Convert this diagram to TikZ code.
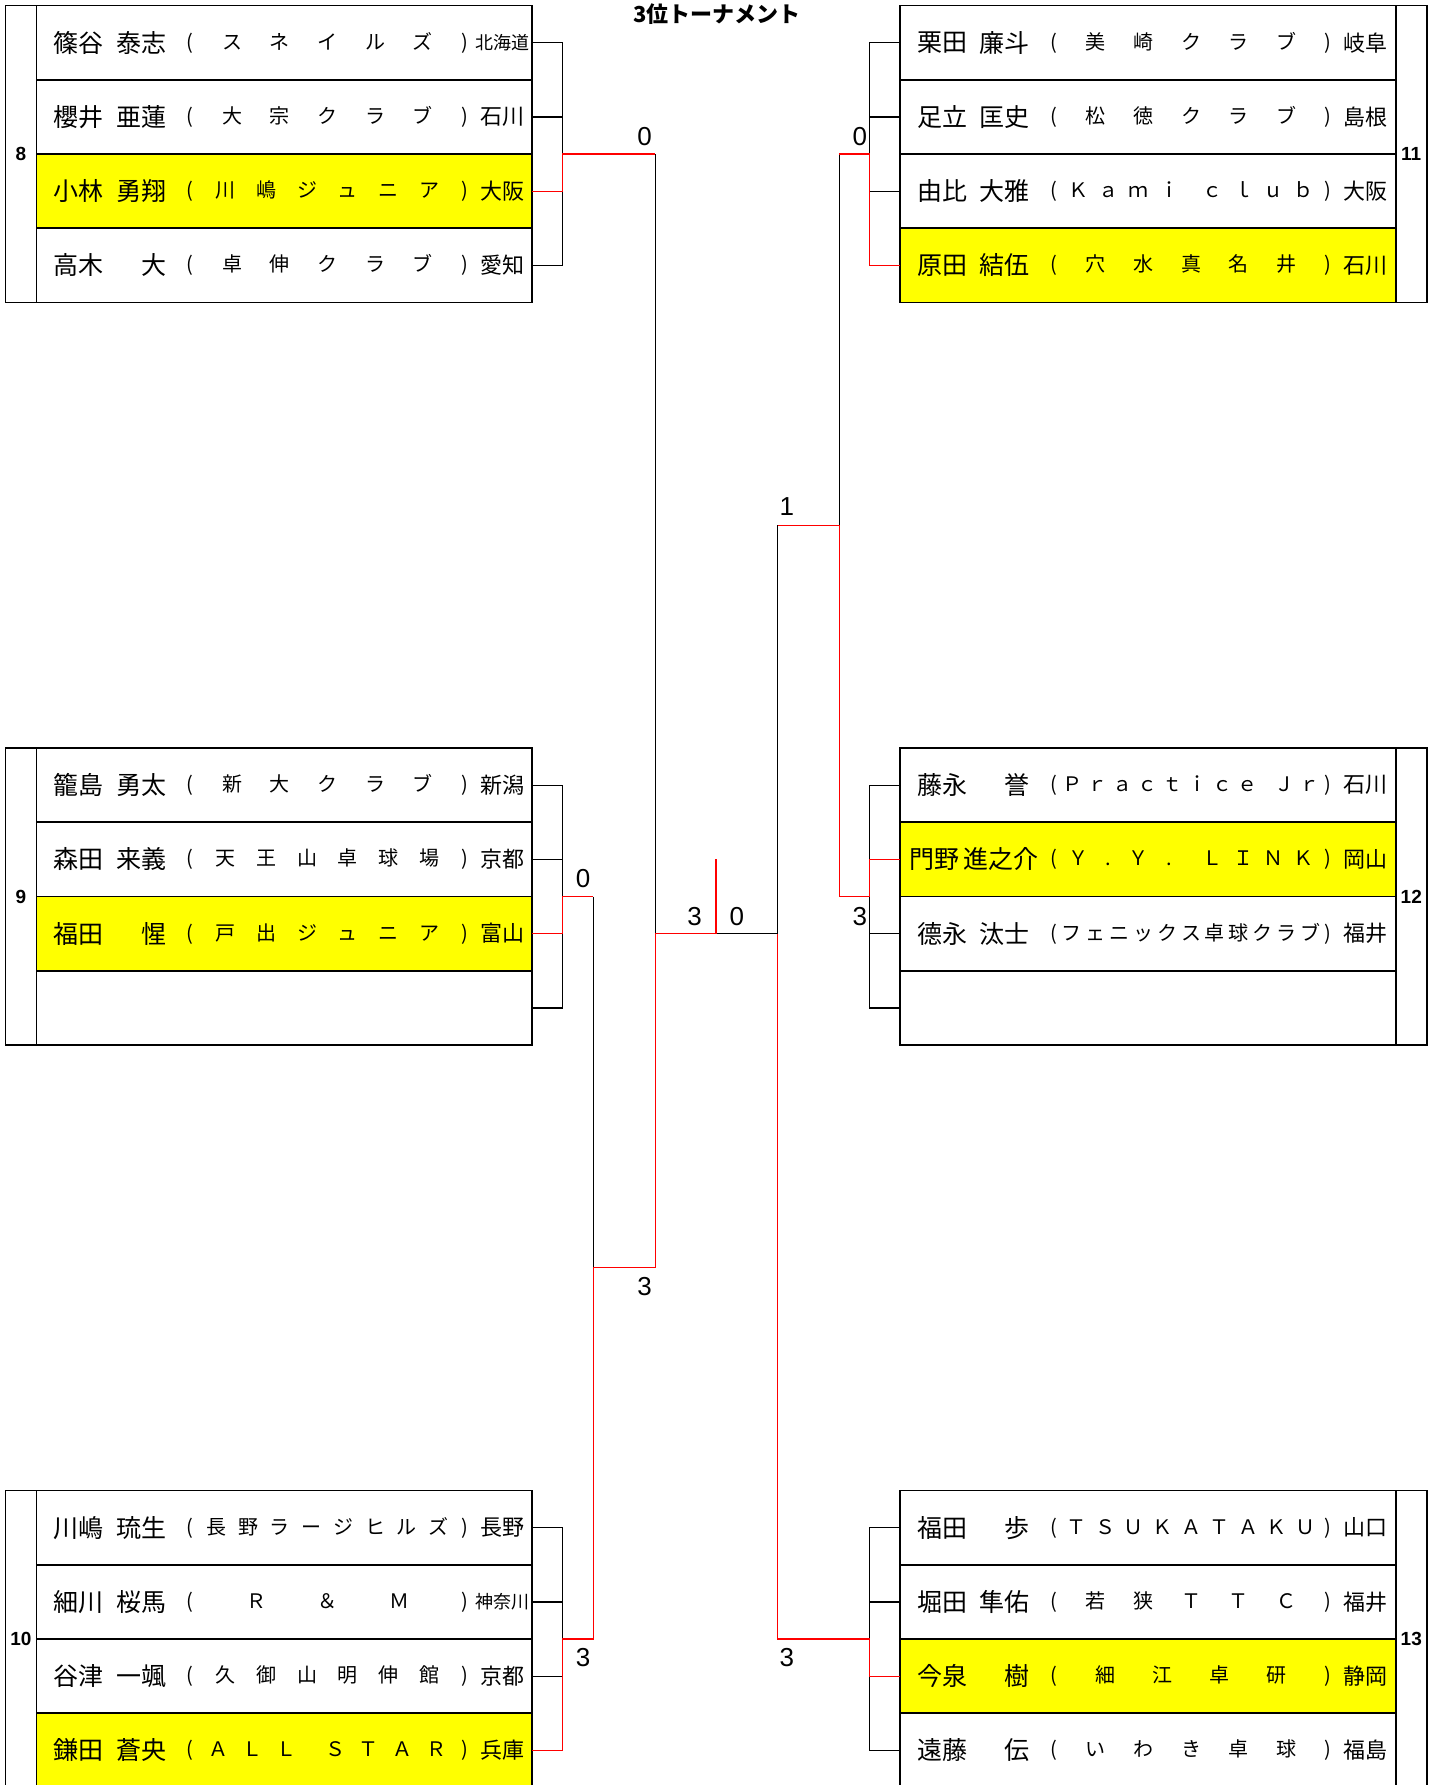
\documentclass[tikz,border=0pt]{standalone}
\usepackage{fontspec}
\setmainfont{Liberation Sans}
\newfontfamily\jp{Noto Sans CJK JP}
\definecolor{hl}{RGB}{255,255,0}
\definecolor{winred}{RGB}{255,0,0}

% club name spread between the brackets, * = a wider gap
\newcommand\club[4]{%
  \gdef\clubsum{1}%
  \foreach \t in {#4}{%
    \if*\t\pgfmathsetmacro\clubtmp{\clubsum+0.45}\else\pgfmathsetmacro\clubtmp{\clubsum+1}\fi
    \global\let\clubsum\clubtmp}%
  \pgfmathsetmacro\clubstep{286/\clubsum}%
  \gdef\clubpos{0}%
  \node[club] (#1-lp) at (#2+153.7,#3) {(};
  \node[club] (#1-rp) at (#2+428.2,#3) {)};
  \foreach \t [count=\i] in {#4}{%
    \if*\t
      \pgfmathsetmacro\clubtmp{\clubpos+0.45}\global\let\clubpos\clubtmp
    \else
      \pgfmathsetmacro\clubtmp{\clubpos+1}\global\let\clubpos\clubtmp
      \node[club] (#1-c\i) at ({#2+148+\clubpos*\clubstep},#3) {\t};
    \fi}%
}
% one player row
\newcommand\plrow[8]{%
  \node[rowbox,fill=#4] (#1) at (#2+247.75,#3) {};
  \node[pname,anchor=west] (#1-sn) at (#2+17,#3) {#5};
  \node[pname,anchor=east] (#1-gn) at (#2+130,#3) {#6};
  \club{#1}{#2}{#3}{#7}%
  \node[pref,anchor=east] (#1-pf) at (#2+488,#3) {#8};
}
\newcommand\smpref[1]{{\fontsize{9}{9}\selectfont#1\kern-2.5pt}}

\begin{document}
\begin{tikzpicture}
[x=0.5pt,y=-0.5pt,%
  rowbox/.style={draw,line width=0.75pt,minimum width=247.75pt,minimum height=37.125pt,inner sep=0pt,outer sep=0pt},
  numbox/.style={draw,line width=0.75pt,minimum width=15.5pt,minimum height=148.5pt,inner sep=0pt,outer sep=0pt,font=\bfseries\fontsize{9.5}{10}\selectfont},
  pname/.style={inner sep=0pt,font=\jp\fontsize{12.5}{13}\selectfont},
  club/.style={inner sep=0pt,text height=8pt,text depth=1.5pt,font=\jp\fontsize{10}{10}\selectfont},
  pref/.style={inner sep=0pt,font=\jp\fontsize{11}{11}\selectfont},
  score/.style={inner sep=0pt,font=\fontsize{13}{13}\selectfont},
  wire/.style={line width=0.6pt},
  win/.style={wire,draw=winred}]
\useasboundingbox (0,0) rectangle (1436,1785);

\node[inner sep=0pt,font=\jp\bfseries\fontsize{11}{12}\selectfont] (title) at (717,14) {3位トーナメント};

% left blocks
\node[numbox] (g8n) at (21,154) {8};
\plrow{g8r1}{36.5}{42.6}{white}{篠谷}{泰志}{ス,ネ,イ,ル,ズ}{\smpref{北海道}}
\plrow{g8r2}{36.5}{116.9}{white}{櫻井}{亜蓮}{大,宗,ク,ラ,ブ}{石川}
\plrow{g8r3}{36.5}{191.1}{hl}{小林}{勇翔}{川,嶋,ジ,ュ,ニ,ア}{大阪}
\plrow{g8r4}{36.5}{265.4}{white}{高木}{大}{卓,伸,ク,ラ,ブ}{愛知}

\node[numbox] (g9n) at (21,896.5) {9};
\plrow{g9r1}{36.5}{785.1}{white}{籠島}{勇太}{新,大,ク,ラ,ブ}{新潟}
\plrow{g9r2}{36.5}{859.4}{white}{森田}{来義}{天,王,山,卓,球,場}{京都}
\plrow{g9r3}{36.5}{933.6}{hl}{福田}{惺}{戸,出,ジ,ュ,ニ,ア}{富山}
\node[rowbox,fill=white] (g9r4) at (284.25,1007.9) {};

\node[numbox] (g10n) at (21,1639) {10};
\plrow{g10r1}{36.5}{1527.6}{white}{川嶋}{琉生}{長,野,ラ,ー,ジ,ヒ,ル,ズ}{長野}
\plrow{g10r2}{36.5}{1601.9}{white}{細川}{桜馬}{Ｒ,＆,Ｍ}{\smpref{神奈川}}
\plrow{g10r3}{36.5}{1676.1}{white}{谷津}{一颯}{久,御,山,明,伸,館}{京都}
\plrow{g10r4}{36.5}{1750.4}{hl}{鎌田}{蒼央}{Ａ,Ｌ,Ｌ,*,Ｓ,Ｔ,Ａ,Ｒ}{兵庫}

% right blocks
\node[numbox] (g11n) at (1411.25,154) {11};
\plrow{g11r1}{900}{42.6}{white}{栗田}{廉斗}{美,崎,ク,ラ,ブ}{岐阜}
\plrow{g11r2}{900}{116.9}{white}{足立}{匡史}{松,徳,ク,ラ,ブ}{島根}
\plrow{g11r3}{900}{191.1}{white}{由比}{大雅}{Ｋ,ａ,ｍ,ｉ,*,ｃ,ｌ,ｕ,ｂ}{大阪}
\plrow{g11r4}{900}{265.4}{hl}{原田}{結伍}{穴,水,真,名,井}{石川}

\node[numbox] (g12n) at (1411.25,896.5) {12};
\plrow{g12r1}{900}{785.1}{white}{藤永}{誉}{Ｐ,ｒ,ａ,ｃ,ｔ,ｉ,ｃ,ｅ,*,Ｊ,ｒ}{石川}
\plrow{g12r2}{900}{859.4}{hl}{\kern-4pt 門野}{進之介\kern-4.5pt}{Ｙ,.,Ｙ,.,*,Ｌ,Ｉ,Ｎ,Ｋ}{岡山}
\plrow{g12r3}{900}{933.6}{white}{德永}{汰士}{フ,ェ,ニ,ッ,ク,ス,卓,球,ク,ラ,ブ}{福井}
\node[rowbox,fill=white] (g12r4) at (1147.75,1007.9) {};

\node[numbox] (g13n) at (1411.25,1639) {13};
\plrow{g13r1}{900}{1527.6}{white}{福田}{歩}{Ｔ,Ｓ,Ｕ,Ｋ,Ａ,Ｔ,Ａ,Ｋ,Ｕ}{山口}
\plrow{g13r2}{900}{1601.9}{white}{堀田}{隼佑}{若,狭,Ｔ,Ｔ,Ｃ}{福井}
\plrow{g13r3}{900}{1676.1}{hl}{今泉}{樹}{細,江,卓,研}{静岡}
\plrow{g13r4}{900}{1750.4}{white}{遠藤}{伝}{い,わ,き,卓,球}{福島}

% bracket corners
\coordinate (j8) at (562.5,154);     \coordinate (s8) at (655.3,154);
\coordinate (j9) at (562.5,896.5);   \coordinate (s9) at (593.3,896.5);
\coordinate (j10) at (562.5,1639);   \coordinate (s10) at (593.3,1639);
\coordinate (sf1) at (593.3,1267.75); \coordinate (sf1c) at (655.3,1267.75);
\coordinate (cl) at (655.3,933.6);   \coordinate (cm) at (716,933.6);
\coordinate (cr) at (777.8,933.6);   \coordinate (ct) at (716,859.4);
\coordinate (j11) at (869.6,154);    \coordinate (s11) at (839.3,154);
\coordinate (j12) at (869.6,896.5);  \coordinate (s12) at (839.3,896.5);
\coordinate (j13) at (869.6,1639);   \coordinate (s13) at (777.8,1639);
\coordinate (sf2) at (839.3,525.25); \coordinate (sf2c) at (777.8,525.25);

% losers
\draw[wire] (g8r1.east) -| (j8) (g8r2.east) -| (j8) (g8r4.east) -| (j8);
\draw[wire] (s8) -- (cl);
\draw[wire] (g9r1.east) -| (j9) (g9r2.east) -| (j9) (g9r4.east) -| (j9);
\draw[wire] (s9) -- (sf1);
\draw[wire] (g10r1.east) -| (j10) (g10r2.east) -| (j10) (g10r3.east) -| (j10);
\draw[wire] (cm) -- (cr) -- (sf2c);
\draw[wire] (g11r1.west) -| (j11) (g11r2.west) -| (j11) (g11r3.west) -| (j11);
\draw[wire] (s11) -- (sf2);
\draw[wire] (g12r1.west) -| (j12) (g12r3.west) -| (j12) (g12r4.west) -| (j12);
\draw[wire] (g13r1.west) -| (j13) (g13r2.west) -| (j13) (g13r4.west) -| (j13);

% winners
\draw[win] (g8r3.east) -| (j8) -- (s8);
\draw[win] (g9r3.east) -| (j9) -- (s9);
\draw[win] (g10r4.east) -| (j10) -- (s10) -- (sf1) -- (sf1c) -- (cl) -- (cm) -- (ct);
\draw[win] (g11r4.west) -| (j11) -- (s11);
\draw[win] (g12r2.west) -| (j12) -- (s12) -- (sf2) -- (sf2c);
\draw[win] (g13r3.west) -| (j13) -- (s13) -- (cr);

% scores
\node[score] (sc8) at (644.6,136.7) {0};
\node[score] (sc9) at (583,879) {0};
\node[score] (sc10) at (583,1658) {3};
\node[score] (scl) at (644.6,1287) {3};
\node[score] (scfl) at (694.7,916.7) {3};
\node[score] (scfr) at (736.8,916.7) {0};
\node[score] (sc11) at (859.8,136.7) {0};
\node[score] (sc12) at (859.8,916.7) {3};
\node[score] (scr) at (786.9,506.8) {1};
\node[score] (sc13) at (786.9,1658) {3};
\end{tikzpicture}
\end{document}
